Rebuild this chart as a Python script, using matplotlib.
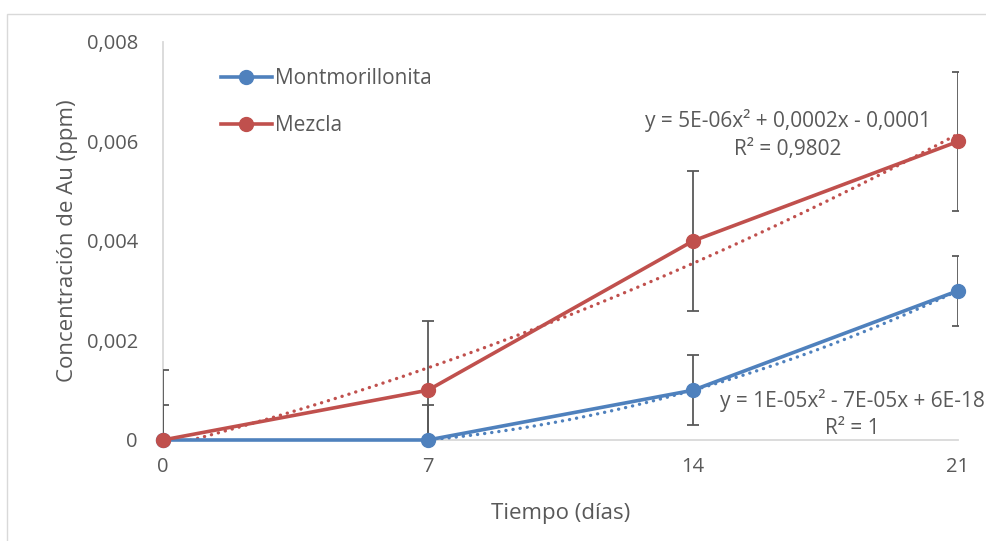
import numpy as np
import matplotlib
matplotlib.use('Agg')
import matplotlib.pyplot as plt
from matplotlib.patches import Rectangle

plt.rcParams['font.family'] = ['Open Sans', 'DejaVu Sans']

# Datos
dias = [0, 7, 14, 21]
montmorillonita = [0, 0, 0.001, 0.003]
mezcla = [0, 0.001, 0.004, 0.006]
err_montmorillonita = [0.0007, 0.0007, 0.0007, 0.0007]
err_mezcla = [0.0014, 0.0014, 0.0014, 0.0014]

azul = '#4F81BD'
rojo = '#C0504D'
gris = '#595959'
texto = '#595959'

fig = plt.figure(figsize=(9.87, 5.41), dpi=100)
fig.patches.append(Rectangle((7 / 987, -0.1), 2, (541 - 14) / 541 + 0.1,
                             transform=fig.transFigure, fill=False,
                             edgecolor='#d9d9d9', linewidth=1))
ax = fig.add_axes([0.165, 0.1867, 0.8056, 0.7357])

# barras de error
ax.errorbar(dias, montmorillonita, yerr=err_montmorillonita, fmt='none',
            ecolor=gris, elinewidth=1.3, capsize=4.5, capthick=1.3, zorder=2)
ax.errorbar(dias, mezcla, yerr=err_mezcla, fmt='none',
            ecolor=gris, elinewidth=1.3, capsize=4.5, capthick=1.3, zorder=2)

# lineas de tendencia polinomica orden 2
xs = np.linspace(0, 21, 300)
for y, c in [(montmorillonita, azul), (mezcla, rojo)]:
    p = np.polyfit(dias, y, 2)
    ax.plot(xs, np.polyval(p, xs), color=c, linewidth=2.4,
            dashes=(0.05, 2.1), dash_capstyle='round', zorder=3)

ax.plot(dias, montmorillonita, color=azul, linewidth=2.6, marker='o',
        markersize=10, label='Montmorillonita', zorder=4, clip_on=False)
ax.plot(dias, mezcla, color=rojo, linewidth=2.6, marker='o',
        markersize=10, label='Mezcla', zorder=5, clip_on=False)

ax.set_xlim(0, 21)
ax.set_ylim(0, 0.008)
ax.set_xticks([0, 7, 14, 21])
ax.set_yticks([0, 0.002, 0.004, 0.006, 0.008])
ax.set_yticklabels(['0', '0,002', '0,004', '0,006', '0,008'])
ax.tick_params(axis='both', length=0, labelsize=14.5, colors=texto)
ax.tick_params(axis='y', pad=18)
ax.tick_params(axis='x', pad=12)
for s in ['top', 'right']:
    ax.spines[s].set_visible(False)
for s in ['left', 'bottom']:
    ax.spines[s].set_color('#d9d9d9')
    ax.spines[s].set_linewidth(1.3)
    ax.spines[s].set_zorder(1)

ax.set_xlabel('Tiempo (días)', fontsize=16, color=texto, labelpad=19)
ax.set_ylabel('Concentración de Au (ppm)', fontsize=16, color=texto, labelpad=6)

ax.legend(loc='upper left', bbox_to_anchor=(0.049, 0.982), frameon=False,
          fontsize=15, labelcolor=texto, handlelength=2.45,
          handletextpad=0.15, labelspacing=1.25)

ax.text(788 / 987, 1 - 120 / 541, 'y = 5E-06x² + 0,0002x - 0,0001',
        transform=fig.transFigure, ha='center', va='center', fontsize=15, color=texto)
ax.text(788 / 987, 1 - 150 / 541, 'R² = 0,9802',
        transform=fig.transFigure, ha='center', va='center', fontsize=15, color=texto)
ax.text(720 / 987, 1 - 400 / 541, 'y = 1E-05x² - 7E-05x + 6E-18',
        transform=fig.transFigure, ha='left', va='center', fontsize=15, color=texto)
ax.text(852 / 987, 1 - 428 / 541, 'R² = 1',
        transform=fig.transFigure, ha='center', va='center', fontsize=15, color=texto)

fig.savefig('out.png', dpi=100)
